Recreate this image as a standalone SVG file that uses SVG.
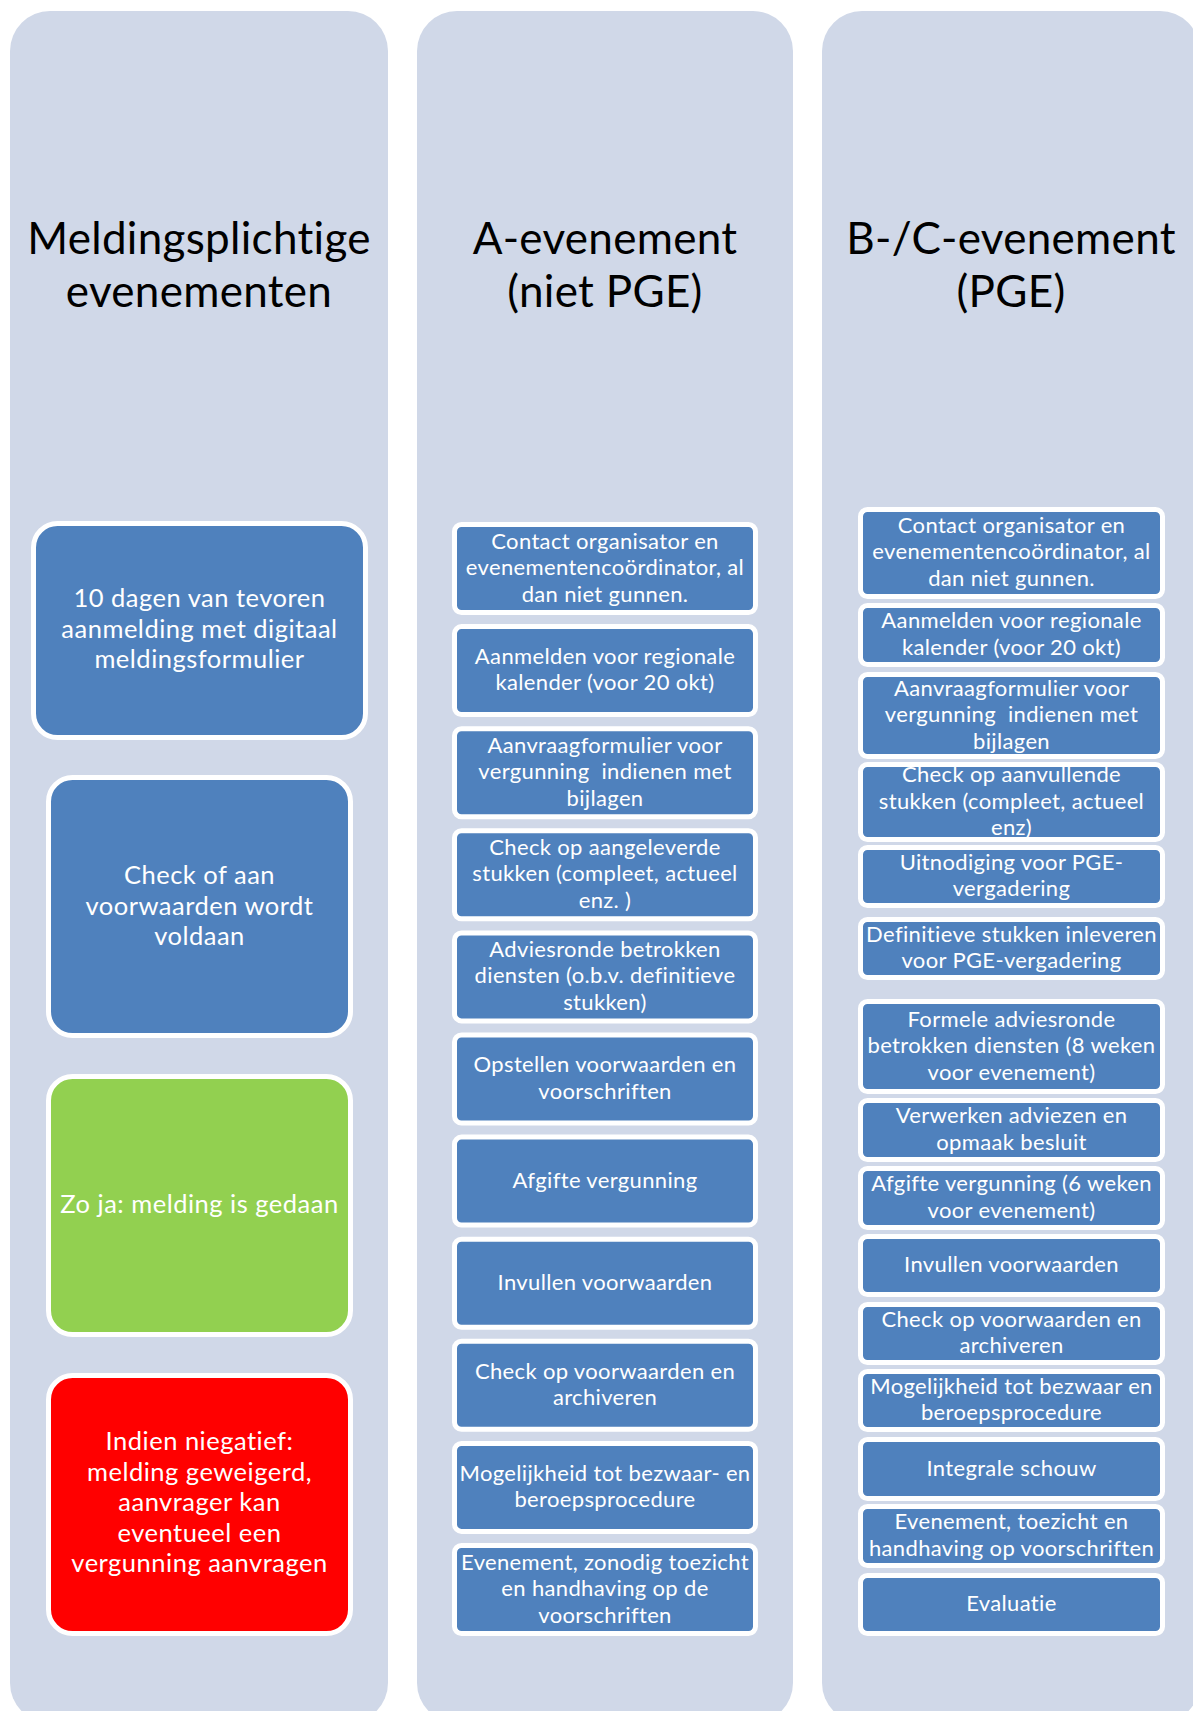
<svg xmlns="http://www.w3.org/2000/svg" width="1193" height="1711" viewBox="0 0 1193 1711">
<style>
.col{fill:#D0D8E8}
.title{font-family:Lato,"Open Sans",sans-serif;font-size:44px;letter-spacing:0.3px;fill:#000;text-anchor:middle}
.big{fill:#4F81BD;stroke:#fff;stroke-width:5}
.green{fill:#92D050;stroke:#fff;stroke-width:5}
.red{fill:#FF0000;stroke:#fff;stroke-width:5}
.box{fill:#4F81BD;stroke:#fff;stroke-width:5}
.t1{font-family:Lato,"Open Sans",sans-serif;font-size:25.5px;letter-spacing:0.5px;fill:#fff;text-anchor:middle}
.t2{font-family:Lato,"Open Sans",sans-serif;font-size:22px;letter-spacing:0.35px;fill:#fff;text-anchor:middle}
</style>
<rect width="1193" height="1711" fill="#fff"/>
<g id="lanes">
<rect class="col" x="10" y="11" width="378" height="1712" rx="40"/>
<rect class="col" x="417" y="11" width="376" height="1712" rx="40"/>
<rect class="col" x="822" y="11" width="378" height="1712" rx="40"/>
</g>
<g id="titles">
<text class="title" x="199" y="254">Meldingsplichtige</text>
<text class="title" x="199" y="307">evenementen</text>
<text class="title" x="605" y="254">A-evenement</text>
<text class="title" x="605" y="307">(niet PGE)</text>
<text class="title" x="1011" y="254">B-/C-evenement</text>
<text class="title" x="1011" y="307">(PGE)</text>
</g>
<g id="connectors"></g>
<g id="m1"><rect class="big" x="33.5" y="523.5" width="332" height="214" rx="24"/>
<text class="t1" x="199.5" y="607">10 dagen van tevoren</text><text class="t1" x="199.5" y="637.5">aanmelding met digitaal</text><text class="t1" x="199.5" y="668">meldingsformulier</text></g>
<g id="m2"><rect class="big" x="48.5" y="777.5" width="302" height="258" rx="24"/>
<text class="t1" x="199.5" y="884">Check of aan</text><text class="t1" x="199.5" y="914.5">voorwaarden wordt</text><text class="t1" x="199.5" y="945">voldaan</text></g>
<g id="m3"><rect class="green" x="48.5" y="1076.5" width="302" height="258" rx="24"/>
<text class="t1" x="199.5" y="1213">Zo ja: melding is gedaan</text></g>
<g id="m4"><rect class="red" x="48.5" y="1375.5" width="302" height="258" rx="24"/>
<text class="t1" x="199.5" y="1450">Indien niegatief:</text><text class="t1" x="199.5" y="1480.5">melding geweigerd,</text><text class="t1" x="199.5" y="1511">aanvrager kan</text><text class="t1" x="199.5" y="1541.5">eventueel een</text><text class="t1" x="199.5" y="1572">vergunning aanvragen</text></g>

<g id="a0"><rect class="box" x="454.5" y="524.5" width="301" height="88" rx="7"/>
<text class="t2" x="605" y="548.5">Contact organisator en</text><text class="t2" x="605" y="575">evenementencoördinator, al</text><text class="t2" x="605" y="601.5">dan niet gunnen.</text></g>
<g id="a1"><rect class="box" x="454.5" y="626.6" width="301" height="88" rx="7"/>
<text class="t2" x="605" y="663.9">Aanmelden voor regionale</text><text class="t2" x="605" y="690.4">kalender (voor 20 okt)</text></g>
<g id="a2"><rect class="box" x="454.5" y="728.7" width="301" height="88" rx="7"/>
<text class="t2" x="605" y="752.7">Aanvraagformulier voor</text><text class="t2" x="605" y="779.2" xml:space="preserve">vergunning  indienen met</text><text class="t2" x="605" y="805.7">bijlagen</text></g>
<g id="a3"><rect class="box" x="454.5" y="830.8" width="301" height="88" rx="7"/>
<text class="t2" x="605" y="854.8">Check op aangeleverde</text><text class="t2" x="605" y="881.3">stukken (compleet, actueel</text><text class="t2" x="605" y="907.8">enz. )</text></g>
<g id="a4"><rect class="box" x="454.5" y="932.9" width="301" height="88" rx="7"/>
<text class="t2" x="605" y="956.9">Adviesronde betrokken</text><text class="t2" x="605" y="983.4">diensten (o.b.v. definitieve</text><text class="t2" x="605" y="1009.9">stukken)</text></g>
<g id="a5"><rect class="box" x="454.5" y="1035" width="301" height="88" rx="7"/>
<text class="t2" x="605" y="1072.3">Opstellen voorwaarden en</text><text class="t2" x="605" y="1098.8">voorschriften</text></g>
<g id="a6"><rect class="box" x="454.5" y="1137.1" width="301" height="88" rx="7"/>
<text class="t2" x="605" y="1187.6">Afgifte vergunning</text></g>
<g id="a7"><rect class="box" x="454.5" y="1239.2" width="301" height="88" rx="7"/>
<text class="t2" x="605" y="1289.7">Invullen voorwaarden</text></g>
<g id="a8"><rect class="box" x="454.5" y="1341.3" width="301" height="88" rx="7"/>
<text class="t2" x="605" y="1378.6">Check op voorwaarden en</text><text class="t2" x="605" y="1405.1">archiveren</text></g>
<g id="a9"><rect class="box" x="454.5" y="1443.4" width="301" height="88" rx="7"/>
<text class="t2" x="605" y="1480.7">Mogelijkheid tot bezwaar- en</text><text class="t2" x="605" y="1507.2">beroepsprocedure</text></g>
<g id="a10"><rect class="box" x="454.5" y="1545.5" width="301" height="88" rx="7"/>
<text class="t2" x="605" y="1569.5">Evenement, zonodig toezicht</text><text class="t2" x="605" y="1596">en handhaving op de</text><text class="t2" x="605" y="1622.5">voorschriften</text></g>

<g id="b1"><rect class="box" x="860.5" y="509.5" width="302" height="87" rx="7"/>
<text class="t2" x="1011.5" y="532.5">Contact organisator en</text><text class="t2" x="1011.5" y="559">evenementencoördinator, al</text><text class="t2" x="1011.5" y="585.5">dan niet gunnen.</text></g>
<g id="b2"><rect class="box" x="860.5" y="605.5" width="302" height="59" rx="7"/>
<text class="t2" x="1011.5" y="628.3">Aanmelden voor regionale</text><text class="t2" x="1011.5" y="654.8">kalender (voor 20 okt)</text></g>
<g id="b3"><rect class="box" x="860.5" y="674.5" width="302" height="82" rx="7"/>
<text class="t2" x="1011.5" y="695.5">Aanvraagformulier voor</text><text class="t2" x="1011.5" y="722" xml:space="preserve">vergunning  indienen met</text><text class="t2" x="1011.5" y="748.5">bijlagen</text></g>
<g id="b4"><rect class="box" x="860.5" y="764.5" width="302" height="75" rx="7"/>
<text class="t2" x="1011.5" y="782">Check op aanvullende</text><text class="t2" x="1011.5" y="808.5">stukken (compleet, actueel</text><text class="t2" x="1011.5" y="835">enz)</text></g>
<g id="b5"><rect class="box" x="860.5" y="847.5" width="302" height="58" rx="7"/>
<text class="t2" x="1011.5" y="869.8">Uitnodiging voor PGE-</text><text class="t2" x="1011.5" y="896.3">vergadering</text></g>
<g id="b6"><rect class="box" x="860.5" y="919.5" width="302" height="58" rx="7"/>
<text class="t2" x="1011.5" y="941.8">Definitieve stukken inleveren</text><text class="t2" x="1011.5" y="968.3">voor PGE-vergadering</text></g>
<g id="b7"><rect class="box" x="860.5" y="1001.5" width="302" height="90" rx="7"/>
<text class="t2" x="1011.5" y="1026.5">Formele adviesronde</text><text class="t2" x="1011.5" y="1053">betrokken diensten (8 weken</text><text class="t2" x="1011.5" y="1079.5">voor evenement)</text></g>
<g id="b8"><rect class="box" x="860.5" y="1100.5" width="302" height="59" rx="7"/>
<text class="t2" x="1011.5" y="1123.3">Verwerken adviezen en</text><text class="t2" x="1011.5" y="1149.8">opmaak besluit</text></g>
<g id="b9"><rect class="box" x="860.5" y="1168.5" width="302" height="59" rx="7"/>
<text class="t2" x="1011.5" y="1191.3">Afgifte vergunning (6 weken</text><text class="t2" x="1011.5" y="1217.8">voor evenement)</text></g>
<g id="b10"><rect class="box" x="860.5" y="1236.5" width="302" height="58" rx="7"/>
<text class="t2" x="1011.5" y="1272">Invullen voorwaarden</text></g>
<g id="b11"><rect class="box" x="860.5" y="1304.5" width="302" height="58" rx="7"/>
<text class="t2" x="1011.5" y="1326.8">Check op voorwaarden en</text><text class="t2" x="1011.5" y="1353.3">archiveren</text></g>
<g id="b12"><rect class="box" x="860.5" y="1371.5" width="302" height="58" rx="7"/>
<text class="t2" x="1011.5" y="1393.8">Mogelijkheid tot bezwaar en</text><text class="t2" x="1011.5" y="1420.3">beroepsprocedure</text></g>
<g id="b13"><rect class="box" x="860.5" y="1439.5" width="302" height="59" rx="7"/>
<text class="t2" x="1011.5" y="1475.5">Integrale schouw</text></g>
<g id="b14"><rect class="box" x="860.5" y="1506.5" width="302" height="59" rx="7"/>
<text class="t2" x="1011.5" y="1529.3">Evenement, toezicht en</text><text class="t2" x="1011.5" y="1555.8">handhaving op voorschriften</text></g>
<g id="b15"><rect class="box" x="860.5" y="1575.5" width="302" height="58" rx="7"/>
<text class="t2" x="1011.5" y="1611">Evaluatie</text></g>
</svg>
